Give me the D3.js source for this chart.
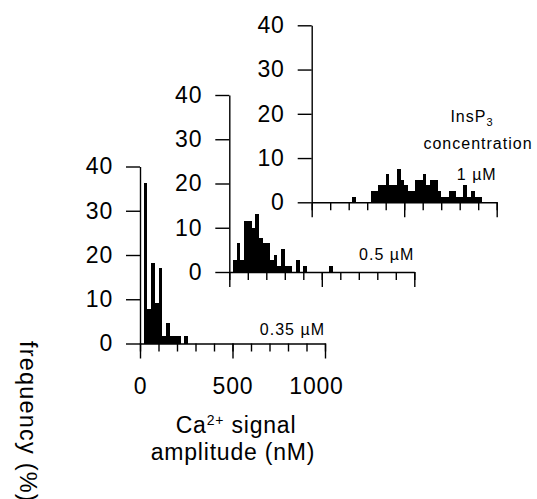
<!DOCTYPE html>
<html>
<head>
<meta charset="utf-8">
<script src="https://cdn.jsdelivr.net/npm/d3@7"></script>
<style>
  body { margin: 0; background: #fff; }
  svg { display: block; font-family: "Liberation Sans", Arial, sans-serif; }
</style>
</head>
<body>
<svg id="chart" width="537" height="499"></svg>
<script>
// histogram bins are 20 nM wide, values are % of events
const binWidth = 20

const labels = ['0.35 µM', '0.5 µM', '1 µM']

const bins035 = [20, 40, 60, 80, 100, 120, 140, 160, 180, 200, 220, 240]
const freq035 = [36.3, 7.7, 18.2, 9.1, 17.0, 1.6, 4.6, 1.6, 1.6, 1.6, 0, 1.6]

const bins05 = [20, 40, 60, 80, 100, 120, 140, 160, 180, 200, 220, 240, 260, 280, 300, 320, 340, 360, 380, 400, 540]
const freq05 = [2.6, 6.5, 2.6, 11.6, 11.6, 9.9, 13.0, 7.7, 6.5, 6.5, 2.6, 3.9, 1.3, 5.2, 1.3, 1.3, 0, 2.6, 0, 1.3, 1.3]

const bins1 = [220, 320, 340, 360, 380, 400, 420, 440, 460, 480, 500, 520, 540, 560, 580, 600, 620, 640, 660, 680, 700, 720, 740, 760, 780, 800, 820, 840, 860, 880, 900]
const freq1 = [1.3, 2.5, 2.5, 3.8, 3.8, 6.3, 3.8, 3.8, 7.6, 5.1, 3.8, 2.5, 2.5, 5.1, 5.1, 6.3, 3.8, 5.1, 5.1, 2.5, 1.3, 1.3, 2.5, 2.5, 1.3, 1.3, 3.8, 1.3, 2.5, 1.3, 1.3]

const yTicks = [0, 10, 20, 30, 40]
const xMinorTicks = [0, 100, 200, 300, 400, 500, 600, 700, 800, 900, 1000]
const xMajorTicks = [0, 500, 1000]

// layout of the three staggered panels (origin = x 0, y 0)
const panels = [
  { bins: bins035, freq: freq035, label: labels[0], x0: 140, y0: 343.5, labelDy: -8.5, showX: true },
  { bins: bins05, freq: freq05, label: labels[1], x0: 229.3, y0: 272, labelDy: -12, showX: false },
  { bins: bins1, freq: freq1, label: labels[2], x0: 311.7, y0: 202.3, labelDy: -22, showX: false }
]
const panelW = 185
const panelH = 177
const font = '"Liberation Sans", Arial, sans-serif'

let svg = d3.select('#chart')
svg.append('rect').attr('width', 537).attr('height', 499).attr('fill', '#fff')

panels.forEach((p) => {
  let x = d3.scaleLinear().domain([0, 1000]).range([p.x0, p.x0 + panelW])
  let y = d3.scaleLinear().domain([0, 40]).range([p.y0, p.y0 - panelH])

  let g = svg.append('g')

  // bars
  g.selectAll('rect.bar')
    .data(p.bins.map((b, i) => ({ start: b, value: p.freq[i] })))
    .join('rect')
    .attr('class', 'bar')
    .attr('x', d => x(d.start))
    .attr('width', d => x(d.start + binWidth) - x(d.start))
    .attr('y', d => y(d.value))
    .attr('height', d => y(0) - y(d.value))
    .attr('fill', '#000')
    .attr('shape-rendering', 'crispEdges')

  // y axis
  let yAxis = g.append('g')
    .attr('transform', `translate(${p.x0},0)`)
    .call(d3.axisLeft(y).tickValues(yTicks).tickSize(14).tickSizeOuter(0).tickPadding(13))
  yAxis.selectAll('text').attr('font-size', 23).attr('font-family', font)
    .attr('letter-spacing', 0.8).attr('fill', '#000')

  // x axis, minor then major ticks
  let xMinor = g.append('g')
    .attr('transform', `translate(0,${p.y0})`)
    .call(d3.axisBottom(x).tickValues(xMinorTicks).tickSize(8).tickSizeOuter(0).tickFormat(''))
  xMinor.select('.domain').remove()
  let xMajor = g.append('g')
    .attr('transform', `translate(0,${p.y0})`)
    .call(d3.axisBottom(x).tickValues(xMajorTicks).tickSize(15).tickSizeOuter(0).tickPadding(19)
      .tickFormat(p.showX ? d3.format('d') : ''))
  xMajor.selectAll('text').attr('font-size', 23).attr('font-family', font)
    .attr('letter-spacing', 0.8).attr('fill', '#000')
    .attr('dx', d => d === 1000 ? -9 : 0)  // the 1000 label sits a bit left of its tick

  g.selectAll('.domain, .tick line').attr('stroke', '#000').attr('stroke-width', 1.4)

  // concentration label
  g.append('text')
    .attr('x', x(1000))
    .attr('y', p.y0 + p.labelDy)
    .attr('text-anchor', 'end')
    .attr('font-size', 16)
    .attr('letter-spacing', 1)
    .text(p.label)
})

// legend title above the 1 µM label
let ins = svg.append('text')
  .attr('x', 472)
  .attr('y', 121.7)
  .attr('text-anchor', 'middle')
  .attr('font-size', 16)
  .attr('letter-spacing', 1)
ins.append('tspan').text('InsP')
ins.append('tspan').attr('font-size', 11).attr('dy', 4).text('3')

svg.append('text')
  .attr('x', 478)
  .attr('y', 148.5)
  .attr('text-anchor', 'middle')
  .attr('font-size', 16)
  .attr('letter-spacing', 1)
  .text('concentration')

// x axis title
let ca = svg.append('text')
  .attr('x', 236)
  .attr('y', 433.3)
  .attr('text-anchor', 'middle')
  .attr('font-size', 23)
  .attr('letter-spacing', 0.8)
ca.append('tspan').text('Ca')
ca.append('tspan').attr('font-size', 14).attr('dy', -8).text('2+')
ca.append('tspan').attr('dy', 8).text(' signal')

svg.append('text')
  .attr('x', 233)
  .attr('y', 460)
  .attr('text-anchor', 'middle')
  .attr('font-size', 23)
  .attr('letter-spacing', 0.8)
  .text('amplitude (nM)')

// y axis title, rotated to read downward
svg.append('text')
  .attr('transform', 'translate(20,341) rotate(90)')
  .attr('font-size', 23.5)
  .attr('letter-spacing', 1.2)
  .text('frequency (%)')
</script>
</body>
</html>
